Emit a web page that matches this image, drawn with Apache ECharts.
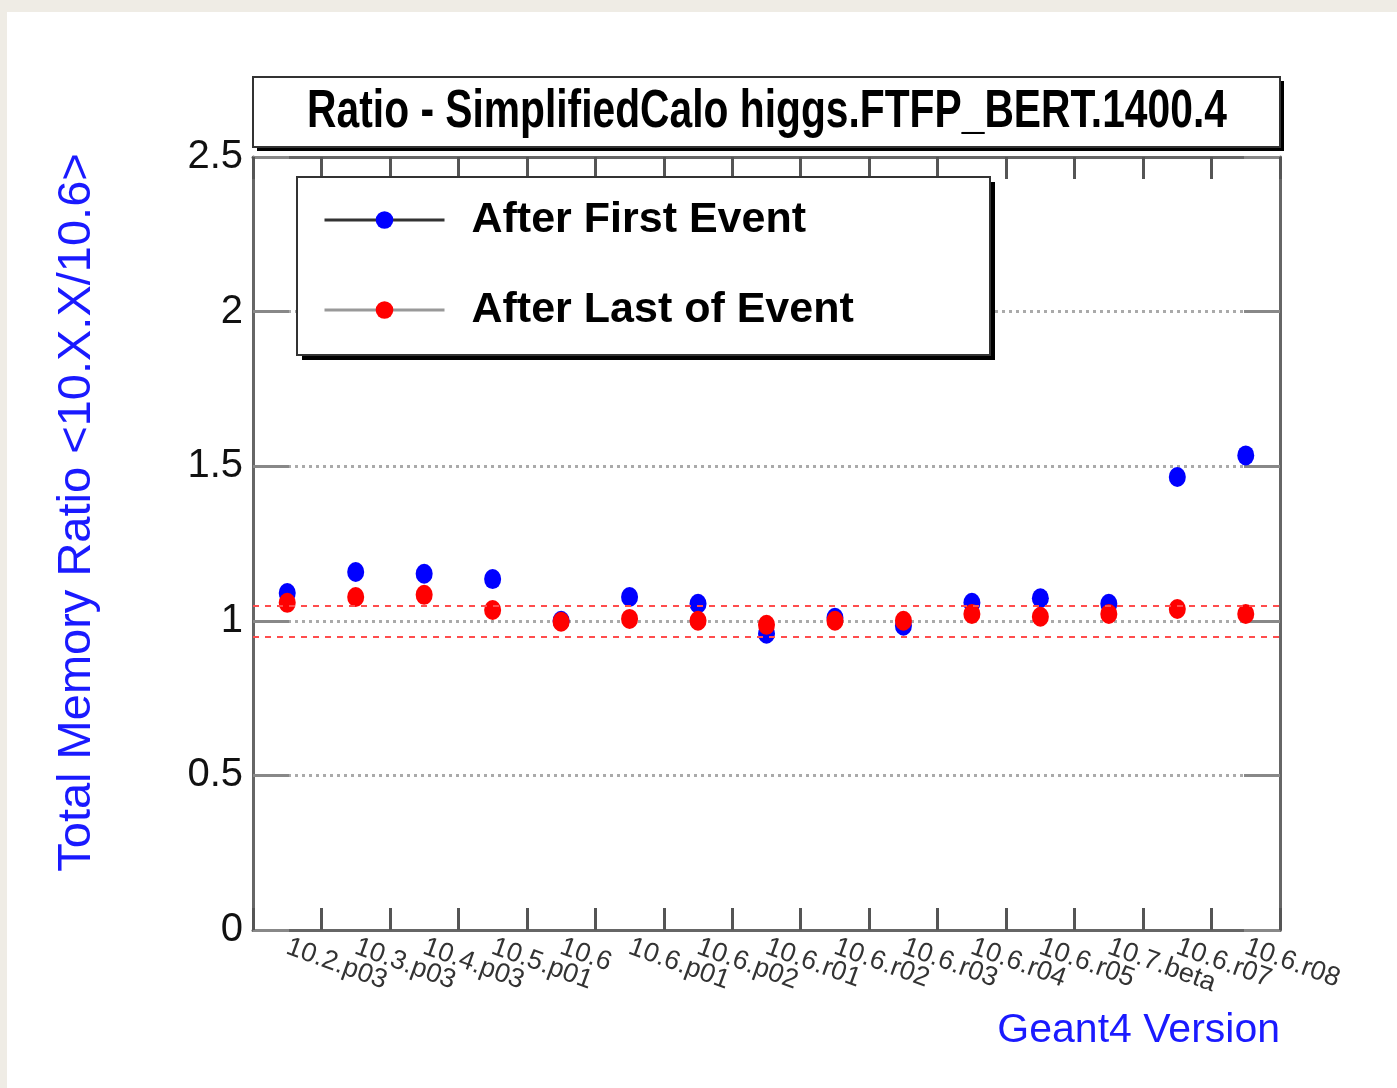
<!DOCTYPE html>
<html>
<head>
<meta charset="utf-8">
<title>Ratio - SimplifiedCalo higgs.FTFP_BERT.1400.4</title>
<script src="https://cdn.jsdelivr.net/npm/echarts@6/dist/echarts.min.js"></script>
<style>
    html, body { margin: 0; padding: 0; background: #efece5; }
    #paper { position: absolute; left: 7px; top: 12px; width: 1390px; height: 1076px; background: #fff; }
    #chart { position: absolute; left: 0; top: 0; width: 1397px; height: 1088px; }
</style>
</head>
<body>
<div id="paper"></div>
<div id="chart"></div>
<script>
// geant4 versions on the x axis
var versions = ['10.2.p03', '10.3.p03', '10.4.p03', '10.5.p01', '10.6', '10.6.p01', '10.6.p02',
    '10.6.r01', '10.6.r02', '10.6.r03', '10.6.r04', '10.6.r05', '10.7.beta', '10.6.r07', '10.6.r08'];

// memory ratio to 10.6
var afterFirst = [1.09, 1.158, 1.152, 1.135, 1.0, 1.077, 1.055, 0.958, 1.01, 0.984, 1.058, 1.073, 1.055, 1.465, 1.535];
var afterLast = [1.058, 1.077, 1.084, 1.035, 0.997, 1.006, 1.0, 0.987, 1.0, 1.0, 1.022, 1.013, 1.022, 1.038, 1.022];

// +-5% band
var bandLines = [1.05, 0.95];
var yTicks = [0, 2.5, 0.5];   // min, max, step

var sans = '"Liberation Sans", Arial, Helvetica, sans-serif';

var myChart = echarts.init(document.getElementById('chart'));

var frameLine = {show: true, onZero: false, lineStyle: {color: '#666', width: 3}};
var none = 'rgba(0,0,0,0)';

var option = {
    animation: false,
    grid: {left: 253, right: 117, top: 157, bottom: 158},
    graphic: [
        // title box with its shadow
        {type: 'rect', shape: {x: 257, y: 81, width: 1027, height: 70}, style: {fill: '#000'}, z: 10},
        {type: 'rect', shape: {x: 253, y: 77, width: 1027, height: 70}, style: {fill: '#fff', stroke: '#333', lineWidth: 2}, z: 11},
        {
            type: 'text', x: 767, y: 112, z: 12, scaleX: 0.755,
            style: {
                text: 'Ratio - SimplifiedCalo higgs.FTFP_BERT.1400.4',
                font: 'bold 54px ' + sans,
                fill: '#000', align: 'center', verticalAlign: 'middle'
            }
        },
        // legend frame (the legend itself only draws the entries)
        {type: 'rect', shape: {x: 302, y: 182, width: 693, height: 178}, style: {fill: '#000'}, z: 3},
        {type: 'rect', shape: {x: 297, y: 177, width: 693, height: 178}, style: {fill: '#fff', stroke: '#333', lineWidth: 2}, z: 3}
    ],
    legend: {
        orient: 'vertical',
        left: 323, top: 195,
        padding: 0,
        z: 5,
        itemWidth: 120, itemHeight: 22, itemGap: 40,
        selectedMode: false,
        textStyle: {fontFamily: sans, fontWeight: 'bold', fontSize: 43, lineHeight: 50, color: '#000', padding: [0, 0, 0, 22]},
        data: [
            {name: 'After First Event', itemStyle: {color: '#0000ff'}, lineStyle: {color: '#333', width: 3, opacity: 1}},
            {name: 'After Last of Event', itemStyle: {color: '#ff0000'}, lineStyle: {color: '#999', width: 3, opacity: 1}}
        ]
    },
    xAxis: [
        {
            type: 'category', position: 'bottom',
            data: versions, boundaryGap: true,
            axisLine: frameLine,
            axisTick: {show: true, inside: true, length: 22, interval: 0, lineStyle: {color: '#555', width: 3}},
            axisLabel: {interval: 0, rotate: -20, margin: 16, fontSize: 27, color: '#333', fontFamily: sans},
            name: 'Geant4 Version',
            nameLocation: 'end', nameGap: 0,
            nameTextStyle: {color: '#1a1aff', fontSize: 41, fontFamily: sans, align: 'right', verticalAlign: 'top', padding: [80, 0, 0, 0]}
        },
        {
            type: 'category', position: 'top',
            data: versions, boundaryGap: true,
            axisLine: frameLine,
            axisTick: {show: true, inside: true, length: 22, interval: 0, lineStyle: {color: '#555', width: 3}},
            axisLabel: {show: false}
        }
    ],
    yAxis: [
        {
            type: 'value', position: 'left',
            min: yTicks[0], max: yTicks[1], interval: yTicks[2],
            axisLine: frameLine,
            axisTick: {show: true, inside: true, length: 36, lineStyle: {color: '#888', width: 3}},
            axisLabel: {fontSize: 40, color: '#111', fontFamily: sans, margin: 10},
            // no dotted line on the frame itself (0 and 2.5)
            splitLine: {show: true, lineStyle: {color: [none, '#aaa', '#aaa', '#aaa', '#aaa', none], width: 3, type: [3, 4]}},
            name: 'Total Memory Ratio <10.X.X/10.6>',
            nameLocation: 'middle', nameRotate: 90, nameGap: 152,
            nameTextStyle: {color: '#1a1aff', fontSize: 47, fontFamily: sans, padding: [0, 0, 0, 62]}
        },
        {
            type: 'value', position: 'right',
            min: yTicks[0], max: yTicks[1], interval: yTicks[2],
            axisLine: frameLine,
            axisTick: {show: true, inside: true, length: 36, lineStyle: {color: '#888', width: 3}},
            axisLabel: {show: false},
            splitLine: {show: false}
        }
    ],
    series: [
        {
            name: 'After First Event',
            type: 'line',
            data: afterFirst,
            symbol: 'circle', symbolSize: [17, 20], showSymbol: true,
            itemStyle: {color: '#0000ff'},
            lineStyle: {opacity: 0},
            z: 3
        },
        {
            name: 'After Last of Event',
            type: 'line',
            data: afterLast,
            symbol: 'circle', symbolSize: [17, 20], showSymbol: true,
            itemStyle: {color: '#ff0000'},
            lineStyle: {opacity: 0},
            z: 4,
            markLine: {
                silent: true, symbol: 'none',
                label: {show: false},
                lineStyle: {color: '#ff4d4d', width: 2, type: [6, 6]},
                data: bandLines.map(function (v) { return {yAxis: v}; })
            }
        }
    ]
};

myChart.setOption(option);
</script>
</body>
</html>
